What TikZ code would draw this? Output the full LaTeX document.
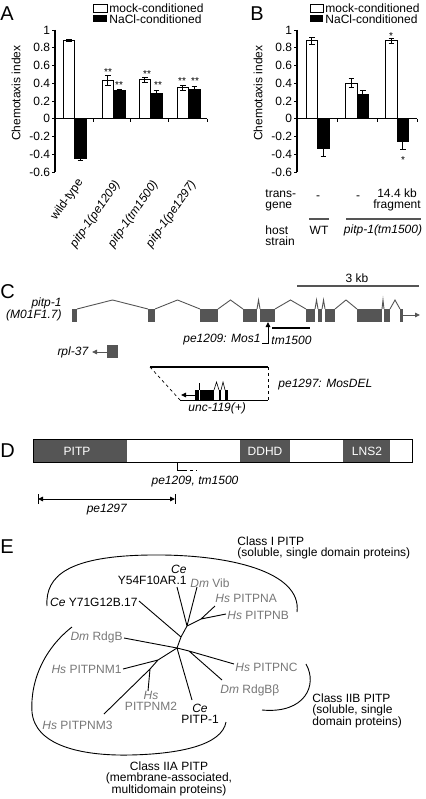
\documentclass[tikz,border=0pt]{standalone}
\usepackage{fontspec}
\setmainfont{Liberation Sans}
\usetikzlibrary{arrows.meta}
\definecolor{boxgray}{HTML}{555555}
\definecolor{namegray}{HTML}{777777}
\begin{document}
\begin{tikzpicture}[x=1pt,y=-1pt,line width=0.9pt,
	every node/.style={inner sep=0pt,font=\fontsize{12}{11}\selectfont},
	panel/.style={anchor=west,font=\fontsize{20}{20}\selectfont},
	gname/.style={text=namegray},
	star/.style={font=\fontsize{10}{10}\selectfont},
	tri/.style={-{Triangle[length=5pt,width=4.5pt]}}]
	\useasboundingbox (0,0) rectangle (425,799);

	% A
	\node[panel] (pA) at (0,14) {A};
	\draw (93,4) rectangle (107,12);
	\fill (93,15) rectangle (107,22);
	\node[anchor=west] (legA1) at (109,8) {mock-conditioned};
	\node[anchor=west] (legA2) at (109,19) {NaCl-conditioned};
	\node[rotate=90] (ylabA) at (16,93) {Chemotaxis index};
	\begin{scope}[shift={(0,118.75)},y=88.75pt]
		\foreach \v [count=\i] in {1,0.8,0.6,0.4,0.2,0,-0.2,-0.4,-0.6}{
			\draw (52,\v) -- (55,\v);
			\node[anchor=east] (tA\i) at (50.5,\v) {\v};
		}
		\foreach \x/\v/\e in {63/0.88/0.01,102/0.43/0.06,139/0.44/0.03,177/0.35/0.03}{
			\draw[fill=white] (\x,0) rectangle (\x+11.5,\v);
			\draw (\x+5.75,\v-\e) -- (\x+5.75,\v+\e) (\x+3,\v-\e) -- (\x+8.5,\v-\e) (\x+3,\v+\e) -- (\x+8.5,\v+\e);
		}
		\foreach \x/\v/\e in {74.5/-0.45/0.02,113.5/0.32/0.01,150.5/0.29/0.03,188.5/0.33/0.03}{
			\draw[fill=black] (\x,0) rectangle (\x+11.5,\v);
			\draw (\x+5.75,\v-\e) -- (\x+5.75,\v+\e) (\x+3,\v-\e) -- (\x+8.5,\v-\e) (\x+3,\v+\e) -- (\x+8.5,\v+\e);
		}
		\draw[line width=1.3pt] (55,1) -- (55,-0.6);
		\draw[line width=1.3pt] (55,0) -- (207,0);
		\foreach \t in {93,130,168,207} \draw (\t,0) -- ++(0pt,-3.5pt);
	\end{scope}
	\node[star] (sA1) at (108,72) {**};
	\node[star] (sA2) at (119,85) {**};
	\node[star] (sA3) at (147,74) {**};
	\node[star] (sA4) at (158,85) {**};
	\node[star] (sA5) at (182,81) {**};
	\node[star] (sA6) at (195,81) {**};
	\node[rotate=55,anchor=east] (gA1) at (81,180) {wild-type};
	\node[rotate=55,anchor=east] (gA2) at (118,182) {\textit{pitp-1(pe1209)}};
	\node[rotate=55,anchor=east] (gA3) at (156,182) {\textit{pitp-1(tm1500)}};
	\node[rotate=55,anchor=east] (gA4) at (194,182) {\textit{pitp-1(pe1297)}};

	% B
	\node[panel] (pB) at (250,14) {B};
	\draw (310,4) rectangle (323,12);
	\fill (310,15) rectangle (323,22);
	\node[anchor=west] (legB1) at (325,8) {mock-conditioned};
	\node[anchor=west] (legB2) at (325,19) {NaCl-conditioned};
	\node[rotate=90] (ylabB) at (258,93) {Chemotaxis index};
	\begin{scope}[shift={(0,118.75)},y=88.75pt]
		\foreach \v [count=\i] in {1,0.8,0.6,0.4,0.2,0,-0.2,-0.4,-0.6}{
			\draw (294,\v) -- (297,\v);
			\node[anchor=east] (tB\i) at (292.5,\v) {\v};
		}
		\foreach \x/\v/\e in {306/0.88/0.04,345.5/0.40/0.05,385.5/0.88/0.03}{
			\draw[fill=white] (\x,0) rectangle (\x+11.5,\v);
			\draw (\x+5.75,\v-\e) -- (\x+5.75,\v+\e) (\x+3,\v-\e) -- (\x+8.5,\v-\e) (\x+3,\v+\e) -- (\x+8.5,\v+\e);
		}
		\foreach \x/\v/\e in {317.5/-0.34/0.08,357/0.27/0.05,397/-0.26/0.09}{
			\draw[fill=black] (\x,0) rectangle (\x+11.5,\v);
			\draw (\x+5.75,\v-\e) -- (\x+5.75,\v+\e) (\x+3,\v-\e) -- (\x+8.5,\v-\e) (\x+3,\v+\e) -- (\x+8.5,\v+\e);
		}
		\draw[line width=1.3pt] (297,1) -- (297,-0.6);
		\draw[line width=1.3pt] (297,0) -- (417,0);
		\foreach \t in {337,377,417} \draw (\t,0) -- ++(0pt,-3.5pt);
	\end{scope}
	\node[star] (sB1) at (391,36) {*};
	\node[star] (sB2) at (403,160) {*};
	\node[anchor=west,align=left] (tgB) at (265,200) {trans-\\gene};
	\node (tgB1) at (318,198) {-};
	\node (tgB2) at (358,198) {-};
	\node[align=center] (tgB3) at (397,200) {14.4 kb\\fragment};
	\draw[boxgray,line width=1.2pt] (309,219) -- (329,219);
	\draw[boxgray,line width=1.2pt] (346,219) -- (421,219);
	\node[anchor=west,align=left] (hsB) at (265,236) {host\\strain};
	\node (hsB1) at (319,230) {WT};
	\node (hsB2) at (383,230) {\textit{pitp-1(tm1500)}};

	% C
	\node[panel] (pC) at (0,292) {C};
	\draw[boxgray,line width=1.2pt] (297,286) -- (419,286);
	\node (kb) at (357,278) {3 kb};
	\node[anchor=east,align=right] (gene) at (62,309) {\textit{pitp-1}\\\textit{(M01F1.7)}};
	\foreach \a/\b in {77/148,155/200,218/243,257/260,275/306,315/318,322/325,335/357,382/384,390/400}
		\draw[boxgray] (\a,309) -- ({(\a+\b)/2},300) -- (\b,309);
	\foreach \a/\b in {72/77,148/155,200/218,243/257,260/275,306/315,318/322,325/335,357/382,384/390,400/403}
		\fill[boxgray] (\a,309) rectangle (\b,322);
	\draw[boxgray,tri] (403,315) -- (420,315);
	\fill[boxgray] (107,345) rectangle (118,358);
	\draw[boxgray,tri] (107,352) -- (92,352);
	\node[anchor=east] (rpl) at (89,352) {\textit{rpl-37}};
	\node[anchor=east] (mos) at (261,340) {\textit{pe1209: Mos1}};
	\draw[tri] (262,343) -- (268,343) -- (268,322);
	\draw[line width=1.5pt] (272,328) -- (310,328);
	\node[anchor=west] (tm) at (271,340) {\textit{tm1500}};
	\draw[line width=1.2pt] (150,367) -- (268,367);
	\draw[dashed,line width=0.7pt] (150,367) -- (180,400);
	\draw[dashed,line width=0.7pt] (268,367) -- (268,400);
	\draw[line width=0.7pt] (180,400) -- (268,400);
	\fill (195,390) rectangle (214,400);
	\fill (219,390) rectangle (221,400);
	\fill (225,390) rectangle (228,400);
	\draw[white,line width=0.6pt] (199,390) -- (199,400);
	\draw[line width=0.6pt] (199,390) -- (199,383);
	\draw[line width=0.6pt] (214,390) -- (216.5,382) -- (219,390) (221,390) -- (223,382) -- (225,390);
	\draw[tri] (195,395) -- (181,395);
	\node[anchor=west] (del) at (278,385) {\textit{pe1297: MosDEL}};
	\node[anchor=west] (unc) at (188,408) {\textit{unc-119(+)}};

	% D
	\node[panel] (pD) at (0,451) {D};
	\fill[boxgray] (33,439) rectangle (127,462);
	\fill[boxgray] (240,439) rectangle (290,462);
	\fill[boxgray] (343,439) rectangle (390,462);
	\draw (33,439) rectangle (412,462);
	\node[text=white] (pitpD) at (77,451) {PITP};
	\node[text=white] (ddhd) at (265,451) {DDHD};
	\node[text=white] (lns) at (367,451) {LNS2};
	\draw (177,463) -- (177,470) -- (184,470);
	\draw[dashed] (184,470) -- (197,470);
	\node (mutD) at (195,482) {\textit{pe1209, tm1500}};
	\draw (38,494) -- (38,504) (175,494) -- (175,504);
	\draw[{Triangle[length=5pt,width=4.5pt]}-{Triangle[length=5pt,width=4.5pt]}] (38,499) -- (175,499);
	\node (delD) at (107,510) {\textit{pe1297}};

	% E
	\node[panel] (pE) at (0,547) {E};
	\coordinate (nA) at (177,648);
	\coordinate (nB) at (181,637);
	\coordinate (nC) at (187,626);
	\coordinate (nAB) at (201,619);
	\coordinate (nBC) at (189,651);
	\coordinate (nM1) at (158,660);
	\coordinate (nM2) at (150,669);
	\coordinate (eY71) at (139,601);
	\coordinate (eY54) at (177,587);
	\coordinate (eVib) at (197,587);
	\coordinate (ePNA) at (215,606);
	\coordinate (ePNB) at (226,614);
	\coordinate (eRdgB) at (124,638);
	\coordinate (eM1) at (123,669);
	\coordinate (eM2) at (148,691);
	\coordinate (eM3) at (104,714);
	\coordinate (eP1) at (192,700);
	\coordinate (ePNC) at (234,664);
	\coordinate (eRdgBb) at (222,680);
	\draw (eY71) -- (nB) (nA) -- (nB) -- (nC) -- (eY54) (nC) -- (eVib) (nC) -- (nAB) -- (ePNA) (nAB) -- (ePNB);
	\draw (eRdgB) -- (nA) -- (nBC) -- (ePNC) (nBC) -- (eRdgBb) (nA) -- (eP1);
	\draw (nA) -- (nM1) -- (eM1) (nM1) -- (nM2) -- (eM2) (nM2) -- (eM3);
	\node[anchor=east,align=right] (y54) at (187,575) {\textit{Ce}\\Y54F10AR.1};
	\node[anchor=west,gname] (vib) at (190,583) {\textit{Dm} Vib};
	\node[anchor=west,gname] (pna) at (215,598) {\textit{Hs} PITPNA};
	\node[anchor=west,gname] (pnb) at (227,615) {\textit{Hs} PITPNB};
	\node[anchor=east] (y71) at (138,602) {\textit{Ce} Y71G12B.17};
	\node[anchor=east,gname] (rdgb) at (123,637) {\textit{Dm} RdgB};
	\node[anchor=east,gname] (m1) at (122,669) {\textit{Hs} PITPNM1};
	\node[align=center,gname] (m2) at (151,701) {\textit{Hs}\\PITPNM2};
	\node[anchor=west,gname] (m3) at (42,725) {\textit{Hs} PITPNM3};
	\node[align=center] (p1) at (200,714) {\textit{Ce}\\PITP-1};
	\node[anchor=west,gname] (pnc) at (235,667) {\textit{Hs} PITPNC};
	\node[anchor=west,gname] (rdgbb) at (220,690) {\textit{Dm} RdgBβ};
	\draw (47,606) .. controls (45,575) and (70,556) .. (150,555) .. controls (230,554) and (302,572) .. (297,612);
	\draw (72,627) .. controls (45,648) and (30,680) .. (32,712) .. controls (35,745) and (80,756) .. (130,755) .. controls (180,754) and (222,745) .. (226,722);
	\draw (306,664) .. controls (318,685) and (305,714) .. (262,710);
	\node[anchor=west,align=left] (cls1) at (237,548) {Class I PITP\\(soluble, single domain proteins)};
	\node[anchor=west,align=left] (cls2b) at (312,711) {Class IIB PITP\\(soluble, single\\domain proteins)};
	\node[align=center] (cls2a) at (169,779) {Class IIA PITP\\(membrane-associated,\\multidomain proteins)};
\end{tikzpicture}
\end{document}
